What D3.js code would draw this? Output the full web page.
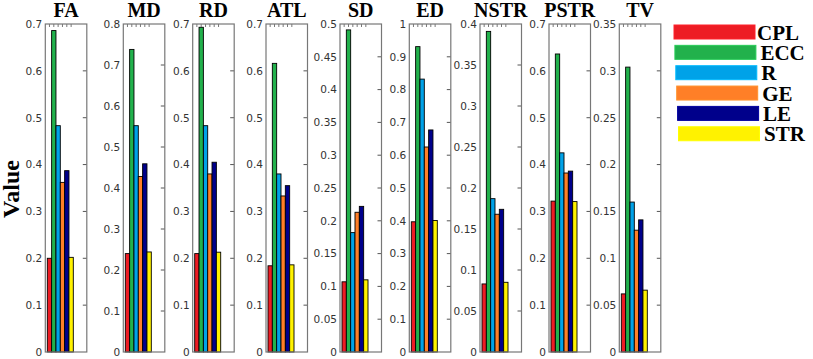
<!DOCTYPE html>
<html lang="en">
<head>
  <meta charset="UTF-8">
  <title>Network metrics</title>
  <script src="https://d3js.org/d3.v7.min.js"></script>
  <style>
    body { margin: 0; background: #fff; }
  </style>
</head>
<body>
  <svg id="chart"></svg>
  <script>
    // metric panels, in order
    const metrics = ["FA", "MD", "RD", "ATL", "SD", "ED", "NSTR", "PSTR", "TV"];
    const yMax = [0.7, 0.8, 0.7, 0.7, 0.5, 1, 0.4, 0.7, 0.35];
    const yStep = [0.1, 0.1, 0.1, 0.1, 0.05, 0.1, 0.05, 0.1, 0.05];

    // graph measures (one bar per measure in each panel)
    const groups = ["CPL", "ECC", "R", "GE", "LE", "STR"];
    const cpl = [0.200, 0.240, 0.210, 0.184, 0.107, 0.397, 0.083, 0.322, 0.062];
    const ecc = [0.686, 0.738, 0.693, 0.616, 0.491, 0.931, 0.391, 0.636, 0.304];
    const r   = [0.483, 0.552, 0.483, 0.380, 0.182, 0.832, 0.187, 0.425, 0.160];
    const ge  = [0.362, 0.428, 0.380, 0.333, 0.213, 0.625, 0.168, 0.382, 0.130];
    const le  = [0.387, 0.459, 0.405, 0.355, 0.222, 0.677, 0.174, 0.386, 0.141];
    const str = [0.202, 0.244, 0.213, 0.186, 0.110, 0.401, 0.085, 0.321, 0.066];

    const series = [cpl, ecc, r, ge, le, str];
    const colors = ["#ed1c24", "#22b14c", "#00a2e8", "#ff7f27", "#00008b", "#fff200"];

    const width = 813, height = 359;
    const panelLeft = [45.3, 123.3, 192.7, 266, 340, 409.3, 480, 549, 619.3];
    const panelW = 41.5;
    const plotTop = 24, plotBottom = 352;

    const svg = d3.select("#chart")
      .attr("width", width)
      .attr("height", height);

    const color = d3.scaleOrdinal().domain(groups).range(colors);

    metrics.forEach((m, i) => {
      const x0 = panelLeft[i];
      const g = svg.append("g");

      const y = d3.scaleLinear()
        .domain([0, yMax[i]])
        .range([plotBottom, plotTop]);

      const x = d3.scaleBand()
        .domain(groups)
        .range([x0 + 2, x0 + 28])
        .padding(0);

      const ticks = d3.range(0, yMax[i] + yStep[i] / 2, yStep[i]).map(v => +v.toFixed(3));
      const fmt = d3.format("~g");

      // bars
      const rows = groups.map((k, j) => ({ key: k, value: series[j][i] }));
      g.selectAll("rect.bar")
        .data(rows)
        .enter()
        .append("rect")
        .attr("class", "bar")
        .attr("x", d => x(d.key))
        .attr("y", d => y(d.value))
        .attr("width", x.bandwidth())
        .attr("height", d => plotBottom - y(d.value))
        .attr("fill", d => color(d.key))
        .attr("stroke", "#000")
        .attr("stroke-width", 0.9);

      // left axis labels
      const yAxis = d3.axisLeft(y)
        .tickValues(ticks)
        .tickFormat(fmt)
        .tickSize(0)
        .tickPadding(3);
      const ax = g.append("g")
        .attr("transform", `translate(${x0},0)`)
        .call(yAxis);
      ax.select(".domain").remove();
      ax.selectAll("text")
        .attr("font-family", "DejaVu Sans, sans-serif")
        .attr("font-size", 10.5)
        .attr("fill", "#333");

      // right side ticks pointing inward
      g.selectAll("line.rt")
        .data(ticks.slice(1, -1))
        .enter()
        .append("line")
        .attr("x1", x0 + panelW - 4)
        .attr("x2", x0 + panelW)
        .attr("y1", d => y(d))
        .attr("y2", d => y(d))
        .attr("stroke", "#555")
        .attr("stroke-width", 1);

      // top x ticks
      g.selectAll("line.xt")
        .data(groups)
        .enter()
        .append("line")
        .attr("x1", d => x(d) + x.bandwidth() / 2)
        .attr("x2", d => x(d) + x.bandwidth() / 2)
        .attr("y1", plotTop)
        .attr("y2", plotTop + 3)
        .attr("stroke", "#555")
        .attr("stroke-width", 0.8);

      // box
      g.append("rect")
        .attr("x", x0)
        .attr("y", plotTop)
        .attr("width", panelW)
        .attr("height", plotBottom - plotTop)
        .attr("fill", "none")
        .attr("stroke", "#777")
        .attr("stroke-width", 1.2);

      // title
      g.append("text")
        .attr("x", x0 + panelW / 2)
        .attr("y", 17)
        .attr("text-anchor", "middle")
        .attr("font-family", "Liberation Serif, Times New Roman, serif")
        .attr("font-weight", "bold")
        .attr("font-size", 20)
        .text(m);
    });

    // y label
    svg.append("text")
      .attr("transform", "translate(19,189) rotate(-90)")
      .attr("text-anchor", "middle")
      .attr("font-family", "Liberation Serif, Times New Roman, serif")
      .attr("font-weight", "bold")
      .attr("font-size", 24)
      .text("Value");

    // legend
    const legend = svg.append("g");
    groups.forEach((k, j) => {
      const ly = 25 + j * 20.35;
      const lx = 674 + j * 0.9;
      legend.append("rect")
        .attr("x", lx)
        .attr("y", ly)
        .attr("width", 81)
        .attr("height", 14)
        .attr("fill", color(k))
        .attr("stroke", d3.color(color(k)).brighter(0.4))
        .attr("stroke-width", 1);
      legend.append("text")
        .attr("x", lx + 83 + (j === 0 ? 0 : 2.5))
        .attr("y", ly + 14.5)
        .attr("font-family", "Liberation Serif, Times New Roman, serif")
        .attr("font-weight", "bold")
        .attr("font-size", 21)
        .text(k);
    });
  </script>
</body>
</html>
